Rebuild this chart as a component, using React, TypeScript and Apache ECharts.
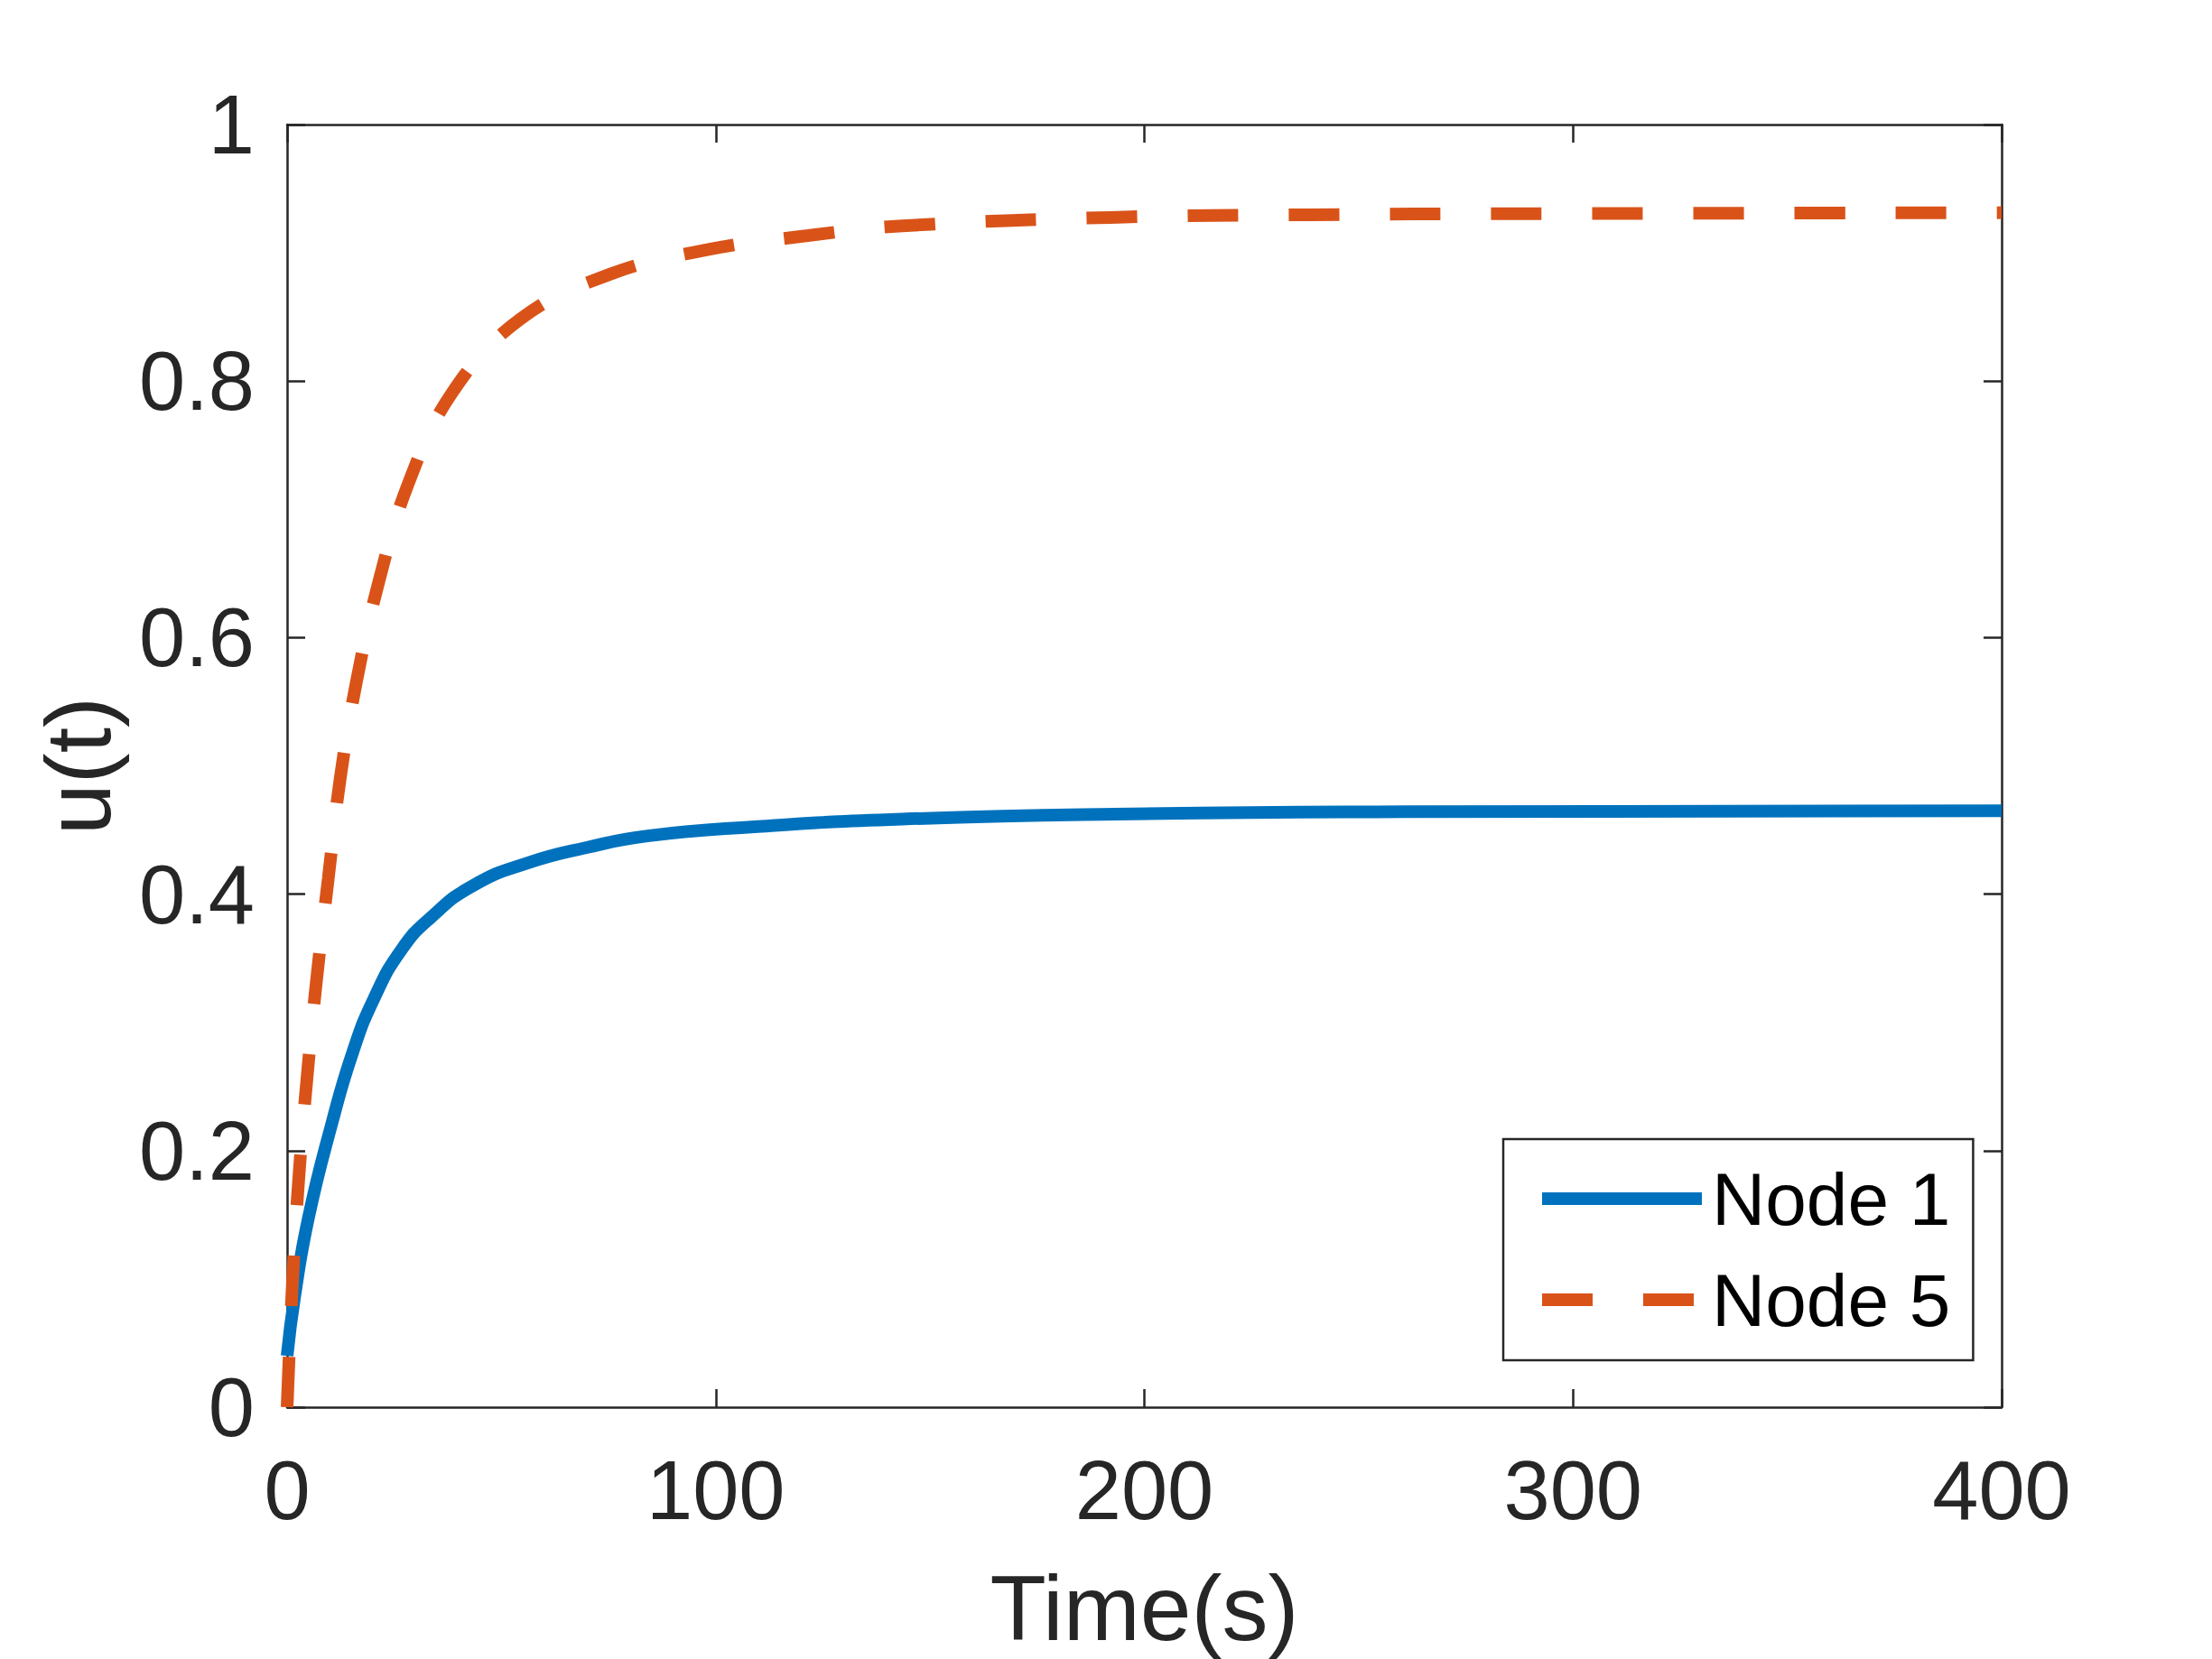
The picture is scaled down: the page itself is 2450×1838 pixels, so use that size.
import React, { useEffect, useRef } from "react";
import * as echarts from "echarts";

// ---- data ----
const node1Time = [0, 1.75, 5, 10.5, 15.3, 20.3, 26.6, 33.6, 43.4, 56.1, 70.1, 84.1, 109, 143.5, 193, 261, 400];
const node1Value = [0.04, 0.086, 0.148, 0.222, 0.2766, 0.3188, 0.3563, 0.382, 0.4067, 0.4243, 0.4365, 0.4454, 0.4525, 0.4585, 0.4624, 0.4642, 0.465];

const node5Time = [0, 1.27, 2.69, 4.6, 6.9, 9.6, 12.4, 16.3, 21.5, 28.3, 38.5, 54.3, 75.3, 98, 121.5, 143.5, 192, 239, 286, 400];
const node5Value = [0, 0.0985, 0.177, 0.255, 0.334, 0.412, 0.4905, 0.5677, 0.6449, 0.7203, 0.7909, 0.8481, 0.8833, 0.9024, 0.9134, 0.921, 0.9276, 0.9297, 0.9305, 0.9313];

const seriesNames = ["Node 1", "Node 5"];
const xLabel = "Time(s)";
const yLabel = "u(t)";
const xMin = 0, xMax = 400, xStep = 100;
const yMin = 0, yMax = 1, yStep = 0.2;

const FONT = "'Liberation Sans', Arial, Helvetica, sans-serif";
const AXIS_COLOR = "#262626";

function pairs(t: number[], v: number[]) {
  return t.map((x, i) => [x, v[i]]);
}

export default function App() {
  const ref = useRef<HTMLDivElement>(null);
  useEffect(() => {
    if (!ref.current) return;
    const chart = echarts.init(ref.current, undefined, { renderer: "svg" });
    const axisLine = { show: true, onZero: false, lineStyle: { color: AXIS_COLOR, width: 2.5 } };
    const axisTick = { show: true, inside: true, length: 20, lineStyle: { color: AXIS_COLOR, width: 2.5 } };
    const option: any = {
      animation: false,
      backgroundColor: "#ffffff",
      grid: { left: 318, right: 233, top: 138, bottom: 278, containLabel: false },
      xAxis: [
        {
          type: "value", min: xMin, max: xMax, interval: xStep, position: "bottom",
          axisLine, axisTick, splitLine: { show: false },
          axisLabel: { color: AXIS_COLOR, fontSize: 92, fontFamily: FONT, margin: 46 },
          name: xLabel, nameLocation: "middle", nameGap: 172,
          nameTextStyle: { color: AXIS_COLOR, fontSize: 102, fontFamily: FONT },
        },
        {
          type: "value", min: xMin, max: xMax, interval: xStep, position: "top",
          axisLine, axisTick, splitLine: { show: false }, axisLabel: { show: false },
        },
      ],
      yAxis: [
        {
          type: "value", min: yMin, max: yMax, interval: yStep, position: "left",
          axisLine, axisTick, splitLine: { show: false },
          axisLabel: { color: AXIS_COLOR, fontSize: 92, fontFamily: FONT, margin: 36 },
          name: yLabel, nameLocation: "middle", nameGap: 180, nameRotate: 90,
          nameTextStyle: { color: AXIS_COLOR, fontSize: 102, fontFamily: FONT },
        },
        {
          type: "value", min: yMin, max: yMax, interval: yStep, position: "right",
          axisLine, axisTick, splitLine: { show: false }, axisLabel: { show: false },
        },
      ],
      legend: {
        data: seriesNames,
        orient: "vertical",
        left: 1665,
        top: 1262,
        padding: [25, 25, 26, 36],
        itemWidth: 177,
        itemHeight: 82,
        itemGap: 30,
        selectedMode: false,
        borderColor: AXIS_COLOR,
        borderWidth: 2.5,
        backgroundColor: "#ffffff",
        lineStyle: { width: 14 },
        itemStyle: { opacity: 0, borderWidth: 0 },
        textStyle: { color: "#000000", fontSize: 82, fontFamily: FONT, padding: [0, 0, 0, 6] },
      },
      series: [
        {
          name: seriesNames[0],
          type: "line",
          data: pairs(node1Time, node1Value),
          symbol: "none",
          smooth: 0.5,
          lineStyle: { color: "#0072BD", width: 14, type: "solid" },
          itemStyle: { color: "#0072BD" },
          z: 2,
        },
        {
          name: seriesNames[1],
          type: "line",
          data: pairs(node5Time, node5Value),
          symbol: "none",
          smooth: 0.4,
          lineStyle: { color: "#D95319", width: 14, type: [56, 56], cap: "butt" },
          itemStyle: { color: "#D95319" },
          z: 3,
        },
      ],
    };
    chart.setOption(option);
    return () => chart.dispose();
  }, []);
  return (
    <div
      ref={ref}
      style={{ position: "fixed", left: 0, top: 0, width: 2450, height: 1838, background: "#fff" }}
    />
  );
}
